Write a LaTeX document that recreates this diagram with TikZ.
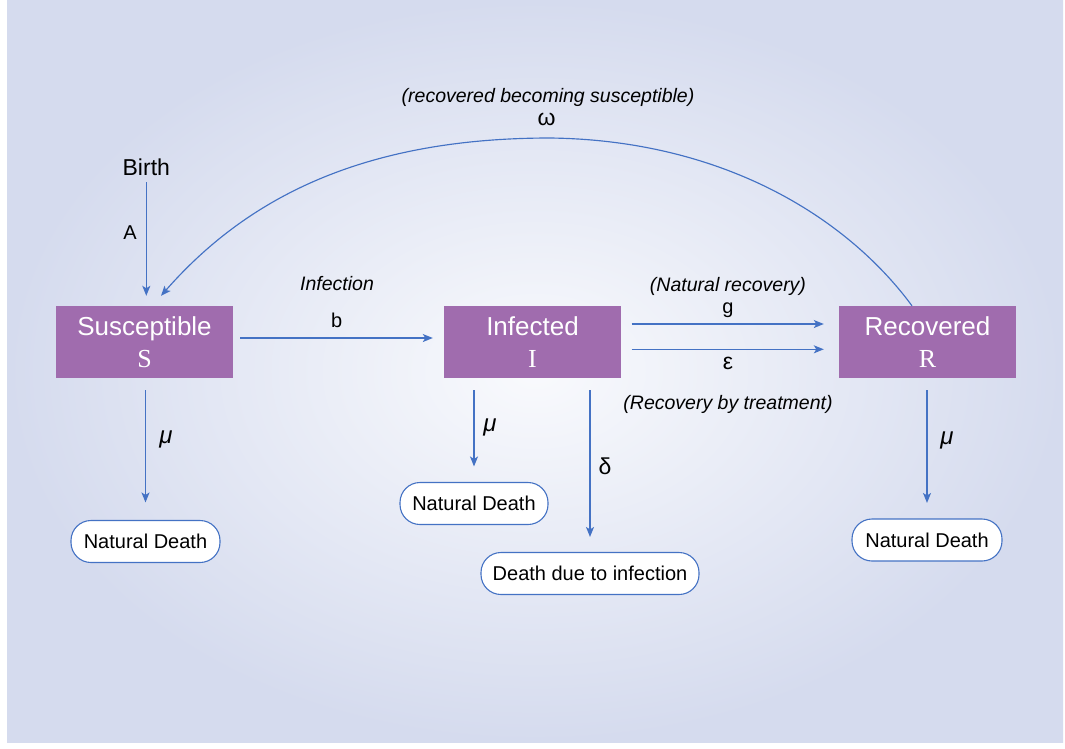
\documentclass[tikz,border=0pt]{standalone}
\usepackage{fontspec}
\setmainfont{Liberation Sans}
\newfontfamily\serifR{Liberation Serif}
\usetikzlibrary{arrows.meta,calc}
\definecolor{bgout}{RGB}{213,219,238}
\definecolor{bgin}{RGB}{249,250,253}
\definecolor{boxpurple}{RGB}{160,108,174}
\definecolor{arrowblue}{RGB}{68,114,196}
\begin{document}
\begin{tikzpicture}[x=1pt,y=-1pt,
  flow/.style={draw=arrowblue, line width=1.15pt, -{Stealth[length=10pt,width=8pt,inset=2.5pt]}},
  compartment/.style={fill=boxpurple, text=white, minimum width=177pt, minimum height=72pt, inner sep=0pt, align=center, font=\fontsize{26}{32}\selectfont},
  sink/.style={draw=arrowblue, fill=white, line width=1.1pt, rounded corners=20pt, minimum height=42pt, inner sep=0pt, font=\fontsize{20}{24}\selectfont},
  lbl/.style={font=\fontsize{20}{24}\selectfont, inner sep=0pt, anchor=base},
  glbl/.style={font=\fontsize{23}{26}\selectfont, inner sep=0pt, anchor=base},
  note/.style={font=\fontsize{19.5}{24}\selectfont\itshape, inner sep=0pt, anchor=base},
  greek/.style={font=\fontsize{24}{28}\selectfont\itshape, inner sep=0pt}]
\useasboundingbox (0,0) rectangle (1065,748);
\fill[white] (0,0) rectangle (1065,748);
\shade[inner color=bgin, outer color=bgout] (7,0) rectangle (1063,742);

% compartments
\node[compartment] (S) at (144.5,342) {Susceptible\\{\serifR\fontsize{26}{32}\selectfont S}};
\node[compartment] (I) at (532.5,342) {Infected\\{\serifR\fontsize{26}{32}\selectfont I}};
\node[compartment] (R) at (927.5,342) {Recovered\\{\serifR\fontsize{26}{32}\selectfont R}};

% sinks
\node[sink, minimum width=149pt] (dS) at (145.5,541.5) {Natural Death};
\node[sink, minimum width=148pt] (dI) at (474,503.5) {Natural Death};
\node[sink, minimum width=218pt] (dX) at (590,573.5) {Death due to infection};
\node[sink, minimum width=150pt] (dR) at (927,540) {Natural Death};

% birth
\node[font=\fontsize{23}{28}\selectfont, inner sep=0pt, anchor=base] (birth) at (146.3,175) {Birth};
\draw[flow, shorten <=7pt, shorten >=10pt] (birth.south) -- (birth.south |- S.north);
\node[lbl] (lA) at (130,239) {A};

% infection
\draw[flow] ($(S.east)+(7,-4)$) -- ($(I.west)+(-11,-4)$);
\node[note] (lInf) at (337,290.5) {Infection};
\node[lbl] (lb) at (336.7,327.3) {b};

% recovery
\draw[flow] ($(I.east)+(10.5,-18)$) -- ($(R.west)+(-15,-18)$);
\draw[flow] ($(I.east)+(10.5,7.3)$) -- ($(R.west)+(-15,7.3)$);
\node[note] (lNat) at (728,291) {(Natural recovery)};
\node[lbl] (lg) at (728,313.5) {g};
\node[glbl] (leps) at (728,369) {ε};
\node[note] (lTreat) at (728,409) {(Recovery by treatment)};

% waning immunity
\draw[flow] ($(R.north)+(-15.5,0)$) .. controls (845,215) and (720,140) .. (550,138)
  .. controls (360,138) and (245,200) .. ($(S.north)+(16.5,-10)$);
\node[note] (lRec) at (548,102.7) {(recovered becoming susceptible)};
\node[glbl] (lom) at (546.7,125.7) {ω};

% deaths
\draw[flow, shorten <=12pt, shorten >=17.5pt] (dS.north |- S.south) -- (dS.north);
\node[greek] (muS) at (166,439) {μ};
\draw[flow, shorten <=12pt, shorten >=15.5pt] (dI.north |- I.south) -- (dI.north);
\node[greek] (muI) at (490,427) {μ};
\draw[flow, shorten <=12pt, shorten >=15pt] (dX.north |- I.south) -- (dX.north);
\node[font=\fontsize{23}{26}\selectfont, inner sep=0pt] (ldel) at (605,466) {δ};
\draw[flow, shorten <=12pt, shorten >=15.5pt] (dR.north |- R.south) -- (dR.north);
\node[greek] (muR) at (947,440) {μ};
\end{tikzpicture}
\end{document}
